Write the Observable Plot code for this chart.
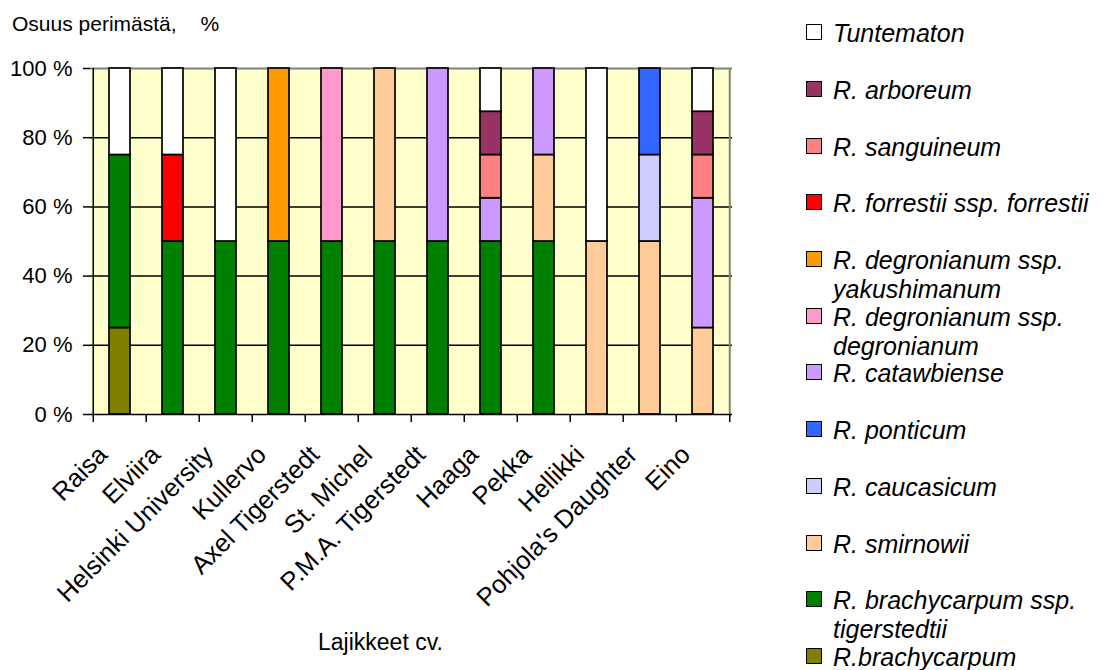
<!DOCTYPE html>
<html>
<head>
<meta charset="utf-8">
<script src="https://cdn.jsdelivr.net/npm/d3@7"></script>
<script src="https://cdn.jsdelivr.net/npm/@observablehq/plot@0.6"></script>
<style>
  html, body { margin: 0; padding: 0; background: #fff; overflow: hidden; }
  #wrap { position: relative; width: 1107px; height: 670px; font-family: "Liberation Sans", Arial, sans-serif; color: #000; }
  .abs { position: absolute; white-space: nowrap; }
  .leg { position: absolute; left: 806px; width: 300px; }
  .leg .box { position: absolute; left: 0; top: 7px; width: 14px; height: 14px; border: 1.5px solid #000; }
  .leg .lab { position: absolute; left: 27px; top: 0; width: 273px; font-size: 25px; line-height: 32px; font-style: italic; white-space: normal; }
  .leg .lab .l2 { display: block; line-height: 26px; }
</style>
</head>
<body>
<div id="wrap"></div>
<script>
// ---- data ----
const cultivars = ["Raisa", "Elviira", "Helsinki University", "Kullervo", "Axel Tigerstedt", "St. Michel",
  "P.M.A. Tigerstedt", "Haaga", "Pekka", "Hellikki", "Pohjola's Daughter", "Eino"];

// species, bottom of stack first
const species = ["R.brachycarpum", "R. brachycarpum ssp. tigerstedtii", "R. smirnowii", "R. caucasicum",
  "R. ponticum", "R. catawbiense", "R. degronianum ssp. degronianum", "R. degronianum ssp. yakushimanum",
  "R. forrestii ssp. forrestii", "R. sanguineum", "R. arboreum", "Tuntematon"];
const speciesColors = ["#808000", "#008000", "#FFCC99", "#CCCCFF", "#3366FF", "#CC99FF", "#FF99CC",
  "#FF9900", "#FF0000", "#FF8080", "#993366", "#FFFFFF"];

// share of genome (%) per cultivar, one array per species
const brachycarpum  = [25, 0, 0, 0, 0, 0, 0, 0, 0, 0, 0, 0];
const tigerstedtii  = [50, 50, 50, 50, 50, 50, 50, 50, 50, 0, 0, 0];
const smirnowii     = [0, 0, 0, 0, 0, 50, 0, 0, 25, 50, 50, 25];
const caucasicum    = [0, 0, 0, 0, 0, 0, 0, 0, 0, 0, 25, 0];
const ponticum      = [0, 0, 0, 0, 0, 0, 0, 0, 0, 0, 25, 0];
const catawbiense   = [0, 0, 0, 0, 0, 0, 50, 12.5, 25, 0, 0, 37.5];
const degronianum   = [0, 0, 0, 0, 50, 0, 0, 0, 0, 0, 0, 0];
const yakushimanum  = [0, 0, 0, 50, 0, 0, 0, 0, 0, 0, 0, 0];
const forrestii     = [0, 25, 0, 0, 0, 0, 0, 0, 0, 0, 0, 0];
const sanguineum    = [0, 0, 0, 0, 0, 0, 0, 12.5, 0, 0, 0, 12.5];
const arboreum      = [0, 0, 0, 0, 0, 0, 0, 12.5, 0, 0, 0, 12.5];
const tuntematon    = [25, 25, 50, 0, 0, 0, 0, 12.5, 0, 50, 0, 12.5];

const yTicks = [0, 20, 40, 60, 80, 100];
const gridTicks = [20, 40, 60, 80];

const seriesValues = [brachycarpum, tigerstedtii, smirnowii, caucasicum, ponticum, catawbiense,
  degronianum, yakushimanum, forrestii, sanguineum, arboreum, tuntematon];

const rows = [];
species.forEach((s, si) => {
  seriesValues[si].forEach((v, ci) => {
    if (v > 0) rows.push({cultivar: cultivars[ci], species: s, value: v});
  });
});

// ---- layout ----
const W = 1107, H = 670;
const mL = 90, mR = 375, mT = 68, mB = 256;
const step = (W - mL - mR) / cultivars.length;
const first = [cultivars[0]], last = [cultivars[cultivars.length - 1]];

const chart = Plot.plot({
  width: W,
  height: H,
  marginLeft: mL,
  marginRight: mR,
  marginTop: mT,
  marginBottom: mB,
  style: {background: "transparent", fontFamily: "'Liberation Sans', Arial, sans-serif", color: "#000", overflow: "visible"},
  x: {type: "band", domain: cultivars, paddingInner: 0.6, paddingOuter: 0.3, align: 0.5, axis: null},
  y: {domain: [0, 100], axis: null},
  color: {domain: species, range: speciesColors},
  marks: [
    Plot.frame({fill: "#FFFFCC", stroke: "none"}),
    Plot.ruleY(gridTicks, {stroke: "#000", strokeWidth: 1.5}),
    Plot.ruleY([100], {stroke: "#808080", strokeWidth: 2}),
    Plot.ruleX(last, {x: d => d, dx: step / 2, y1: 0, y2: 100, stroke: "#808080", strokeWidth: 2}),
    Plot.barY(rows, {x: "cultivar", y: "value", fill: "species", order: species, stroke: "#000", strokeWidth: 1.7}),
    Plot.ruleY([0], {stroke: "#000", strokeWidth: 1.5}),
    Plot.ruleX(first, {x: d => d, dx: -step / 2, y1: 0, y2: 100, stroke: "#000", strokeWidth: 1.5}),
    Plot.ruleX(cultivars, {x: d => d, dx: -step / 2, y1: 0, insetBottom: -8, stroke: "#000", strokeWidth: 1.5}),
    Plot.ruleX(last, {x: d => d, dx: step / 2, y1: 0, insetBottom: -8, stroke: "#000", strokeWidth: 1.5}),
    Plot.axisY({ticks: yTicks, tickFormat: d => d + " %", tickSize: 7, tickPadding: 11, fontSize: 22, label: null, strokeWidth: 1.5}),
    Plot.text(cultivars, {x: d => d, frameAnchor: "bottom", text: d => d, rotate: -45, textAnchor: "end",
      lineAnchor: "middle", dx: -17, dy: 36, fontSize: 25.5, fill: "#000"})
  ]
});

const wrap = document.getElementById("wrap");
chart.style.position = "absolute";
chart.style.left = "0px";
chart.style.top = "0px";
wrap.appendChild(chart);

// title
const title = document.createElement("div");
title.className = "abs";
title.style.cssText = "left:12px;top:13px;font-size:21px;line-height:1;";
title.innerHTML = "Osuus perimästä,<span style='margin-left:24px'>%</span>";
wrap.appendChild(title);

// x axis title
const xt = document.createElement("div");
xt.className = "abs";
xt.style.cssText = "left:318px;top:631px;font-size:23px;line-height:1;";
xt.textContent = "Lajikkeet cv.";
wrap.appendChild(xt);

// legend (top to bottom = reverse of stack order); long names wrap after "ssp."
const legendOrder = species.map((s, i) => i).reverse();
legendOrder.forEach((si, k) => {
  const c = 33 + k * 56.7;
  const item = document.createElement("div");
  item.className = "leg";
  item.style.top = (c - 15.8) + "px";
  const box = document.createElement("div");
  box.className = "box";
  box.style.background = speciesColors[si];
  const lab = document.createElement("div");
  lab.className = "lab";
  const name = species[si];
  const idx = name.indexOf("ssp. ");
  const oneLine = name === "R. forrestii ssp. forrestii" || idx < 0;
  if (oneLine) {
    lab.textContent = name;
  } else {
    const l1 = document.createElement("span");
    l1.textContent = name.slice(0, idx + 4);
    const l2 = document.createElement("span");
    l2.className = "l2";
    l2.textContent = name.slice(idx + 5);
    lab.appendChild(l1);
    lab.appendChild(l2);
  }
  item.appendChild(box);
  item.appendChild(lab);
  wrap.appendChild(item);
});
</script>
</body>
</html>
